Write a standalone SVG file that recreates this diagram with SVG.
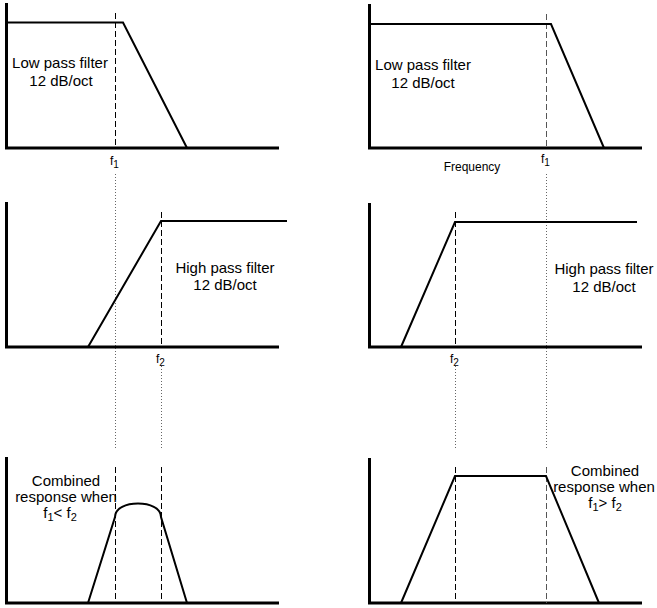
<svg xmlns="http://www.w3.org/2000/svg" width="657" height="608" viewBox="0 0 657 608">
<style>
.axis{fill:none;stroke:#000;stroke-width:3;stroke-linecap:butt}
.curve{fill:none;stroke:#000;stroke-width:2;stroke-linejoin:miter}
.dash{fill:none;stroke:#000;stroke-width:1;stroke-dasharray:6,3}
.dashg{fill:none;stroke:#555;stroke-width:1;stroke-dasharray:6,3}
.dot{fill:none;stroke:#666;stroke-width:1;stroke-dasharray:1,2}
text{font-family:"Liberation Sans",Arial,sans-serif;fill:#000}
.lbl{font-size:15px;text-anchor:middle}
.f{font-size:12px}
.sub{font-size:10px}
.fsub{font-size:11px}
.small{font-size:12px;text-anchor:middle}
</style>
<rect width="657" height="608" fill="#fff"/>
<g id="connectors">
<line class="dot" x1="115.5" y1="174" x2="115.5" y2="448"/>
<line class="dot" x1="161.5" y1="366" x2="161.5" y2="448"/>
<line class="dot" x1="546.5" y1="174" x2="546.5" y2="448"/>
<line class="dot" x1="455.5" y1="366" x2="455.5" y2="448"/>
</g>
<g id="lowpass-left">
<polyline class="axis" points="6.5,3 6.5,148 279,148"/>
<line class="dash" x1="115.5" y1="13" x2="115.5" y2="148"/>
<polyline class="curve" points="6.5,22.5 123,22.5 187,148"/>
<text class="lbl" x="60" y="68">Low pass filter</text>
<text class="lbl" x="61" y="86">12 dB/oct</text>
<text x="110" y="165" class="f">f<tspan class="sub" dy="3">1</tspan></text>
</g>
<g id="lowpass-right">
<polyline class="axis" points="369.5,4 369.5,148 642,148"/>
<line class="dashg" x1="546.5" y1="14" x2="546.5" y2="148"/>
<polyline class="curve" points="369.5,24 551,24 604,148"/>
<text class="lbl" x="423" y="70">Low pass filter</text>
<text class="lbl" x="423" y="88">12 dB/oct</text>
<text x="541" y="163" class="f">f<tspan class="sub" dy="3">1</tspan></text>
<text class="small" x="472" y="171">Frequency</text>
</g>
<g id="highpass-left">
<polyline class="axis" points="6.5,202 6.5,347 279,347"/>
<line class="dash" x1="161.5" y1="212" x2="161.5" y2="347"/>
<polyline class="curve" points="88,347 161,221 287,221"/>
<text class="lbl" x="225" y="273">High pass filter</text>
<text class="lbl" x="225" y="290">12 dB/oct</text>
<text x="156" y="363" class="f">f<tspan class="sub" dy="3">2</tspan></text>
</g>
<g id="highpass-right">
<polyline class="axis" points="369.5,203 369.5,347 642,347"/>
<line class="dash" x1="455.5" y1="212" x2="455.5" y2="347"/>
<polyline class="curve" points="401,347 455,222 637,222"/>
<text class="lbl" x="604" y="274">High pass filter</text>
<text class="lbl" x="604" y="292">12 dB/oct</text>
<text x="450" y="363" class="f">f<tspan class="sub" dy="3">2</tspan></text>
</g>
<g id="combined-left">
<polyline class="axis" points="6.5,457 6.5,603 279,603"/>
<line class="dash" x1="115.5" y1="467" x2="115.5" y2="603"/>
<line class="dash" x1="161.5" y1="467" x2="161.5" y2="603"/>
<path class="curve" d="M88,603 L115,517 C115,499 161,499 161,517 L187,603"/>
<text class="lbl" x="66" y="486">Combined</text>
<text class="lbl" x="66" y="502">response when</text>
<text class="lbl" x="60" y="518">f<tspan class="fsub" dy="3">1</tspan><tspan dy="-3">&lt; f</tspan><tspan class="fsub" dy="3">2</tspan></text>
</g>
<g id="combined-right">
<polyline class="axis" points="369.5,458 369.5,603 642,603"/>
<line class="dash" x1="455.5" y1="467" x2="455.5" y2="603"/>
<line class="dashg" x1="546.5" y1="467" x2="546.5" y2="603"/>
<polyline class="curve" points="401,603 455,476 546,476 599,603"/>
<text class="lbl" x="605" y="476">Combined</text>
<text class="lbl" x="604" y="492">response when</text>
<text class="lbl" x="605" y="508">f<tspan class="fsub" dy="3">1</tspan><tspan dy="-3">&gt; f</tspan><tspan class="fsub" dy="3">2</tspan></text>
</g>
</svg>
